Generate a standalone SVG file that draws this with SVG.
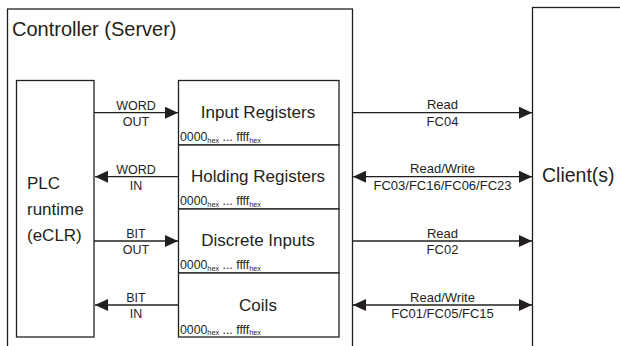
<svg xmlns="http://www.w3.org/2000/svg" width="620" height="346" viewBox="0 0 620 346">
<style>
.box{fill:#fff;stroke:#231f20;stroke-width:1.3}
.ln{fill:none;stroke:#231f20;stroke-width:1.3}
text{font-family:"Liberation Sans",Arial,Helvetica,sans-serif;fill:#231f20}
.big{font-size:20px}
.reg{font-size:17px;text-anchor:middle}
.plc{font-size:17px}
.hex{font-size:12.3px}
.sub{font-size:7.3px}
.lab{font-size:12.5px;text-anchor:middle}
.rlab{font-size:13px;text-anchor:middle}
</style>
<defs>
<marker id="ah" viewBox="0 0 13 12" refX="13" refY="6" markerWidth="13" markerHeight="12" markerUnits="userSpaceOnUse" orient="auto-start-reverse">
<path d="M0,0 L13,6 L0,12 Z" fill="#231f20"/>
</marker>
</defs>
<g id="controller">
<rect class="box" x="7.5" y="9" width="345" height="345"/>
<text class="big" x="12" y="35.5">Controller (Server)</text>
</g>
<g id="client">
<rect class="box" x="532.5" y="7.5" width="100" height="350"/>
<text x="542" y="181.5" style="font-size:19.5px">Client(s)</text>
</g>
<g id="plc">
<rect class="box" x="16.5" y="80.5" width="77.5" height="256.5"/>
<text class="plc" x="27" y="189">PLC</text>
<text class="plc" x="27" y="215">runtime</text>
<text class="plc" x="27" y="241">(eCLR)</text>
</g>
<g id="input-registers">
<rect class="box" x="178.5" y="80.5" width="160.5" height="64.5"/>
<text class="reg" x="258" y="118">Input Registers</text>
<text class="hex" x="180" y="141">0000<tspan class="sub" dy="1.5">hex</tspan><tspan dy="-1.5"> ... ffff</tspan><tspan class="sub" dy="1.5">hex</tspan></text>
</g>
<g id="holding-registers">
<rect class="box" x="178.5" y="145" width="160.5" height="64"/>
<text class="reg" x="258" y="181.5">Holding Registers</text>
<text class="hex" x="180" y="205">0000<tspan class="sub" dy="1.5">hex</tspan><tspan dy="-1.5"> ... ffff</tspan><tspan class="sub" dy="1.5">hex</tspan></text>
</g>
<g id="discrete-inputs">
<rect class="box" x="178.5" y="209" width="160.5" height="64"/>
<text class="reg" x="258" y="246">Discrete Inputs</text>
<text class="hex" x="180" y="269">0000<tspan class="sub" dy="1.5">hex</tspan><tspan dy="-1.5"> ... ffff</tspan><tspan class="sub" dy="1.5">hex</tspan></text>
</g>
<g id="coils">
<rect class="box" x="178.5" y="273" width="160.5" height="64"/>
<text class="reg" x="258" y="310.5">Coils</text>
<text class="hex" x="180" y="333.5">0000<tspan class="sub" dy="1.5">hex</tspan><tspan dy="-1.5"> ... ffff</tspan><tspan class="sub" dy="1.5">hex</tspan></text>
</g>
<g id="connectors">
<line class="ln" x1="94" y1="112.7" x2="178" y2="112.7" marker-end="url(#ah)"/>
<text class="lab" x="136" y="109.5">WORD</text>
<text class="lab" x="136" y="126">OUT</text>
<line class="ln" x1="178.5" y1="176.7" x2="95" y2="176.7" marker-end="url(#ah)"/>
<text class="lab" x="136" y="173.5">WORD</text>
<text class="lab" x="136" y="190">IN</text>
<line class="ln" x1="94" y1="241" x2="178" y2="241" marker-end="url(#ah)"/>
<text class="lab" x="136" y="237.8">BIT</text>
<text class="lab" x="136" y="254.3">OUT</text>
<line class="ln" x1="178.5" y1="305" x2="95" y2="305" marker-end="url(#ah)"/>
<text class="lab" x="136" y="301.8">BIT</text>
<text class="lab" x="136" y="318.3">IN</text>
<line class="ln" x1="353" y1="112.7" x2="532" y2="112.7" marker-end="url(#ah)"/>
<text class="rlab" x="442.5" y="109.3">Read</text>
<text class="rlab" x="442.5" y="126">FC04</text>
<line class="ln" x1="353" y1="176.7" x2="532" y2="176.7" marker-start="url(#ah)" marker-end="url(#ah)"/>
<text class="rlab" x="442.5" y="173.3">Read/Write</text>
<text class="rlab" x="442.5" y="190">FC03/FC16/FC06/FC23</text>
<line class="ln" x1="353" y1="241" x2="532" y2="241" marker-end="url(#ah)"/>
<text class="rlab" x="442.5" y="237.6">Read</text>
<text class="rlab" x="442.5" y="254.3">FC02</text>
<line class="ln" x1="353" y1="305" x2="532" y2="305" marker-start="url(#ah)" marker-end="url(#ah)"/>
<text class="rlab" x="442.5" y="301.6">Read/Write</text>
<text class="rlab" x="442.5" y="318.3">FC01/FC05/FC15</text>
</g>
</svg>
